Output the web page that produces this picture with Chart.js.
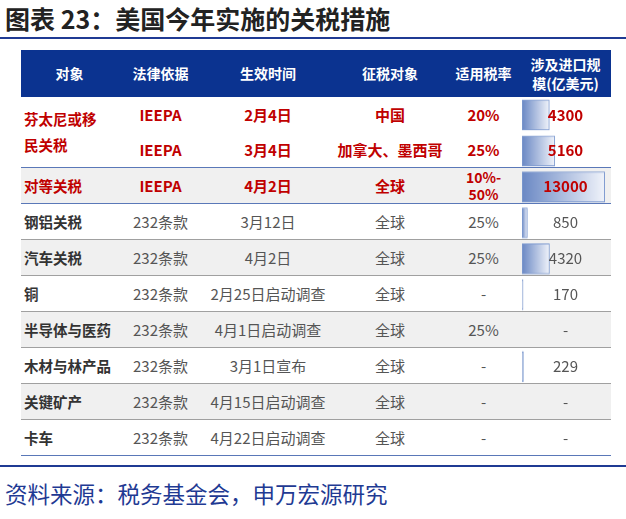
<!DOCTYPE html>
<html><head><meta charset="utf-8">
<script src="https://cdn.jsdelivr.net/npm/chart.js@4"></script>
<style>
body{margin:0;width:626px;height:519px;background:#fff;font-family:"Noto Sans CJK SC",sans-serif;position:relative;overflow:hidden}
#title{position:absolute;left:5px;top:0px;font-size:25px;font-weight:bold;color:#222;line-height:36px}
#tline{position:absolute;left:0;top:37px;width:626px;height:2px;background:#1f3a93}
#bline{position:absolute;left:0;top:465px;width:626px;height:2px;background:#1f3a93}
#src{position:absolute;left:5px;top:477px;font-size:22.5px;color:#1f3a93;line-height:32px}
table{position:absolute;left:21px;top:50px;width:590px;border-collapse:collapse;z-index:1;table-layout:fixed}
td,th{padding:0;text-align:center;font-size:15px;color:#555;height:35px;line-height:18px;white-space:nowrap}
th{background:#0b3390;color:#fff;height:47px;font-weight:bold;font-size:14px;line-height:19px}
td.n{text-align:left;padding-left:3px;font-weight:bold;color:#333;font-size:14.5px}
tr.red td{color:#c00000;font-weight:bold}
tr.g td{background:#f0f0f0}
tr td{border-bottom:1px solid #a0a0a0}
tr.b td{border-bottom:1px solid #5a78b8}
tr.nb td{border-bottom:none}
tr.last td{border-bottom:1px solid #5a78b8}
#cw{position:absolute;left:520px;width:91px;z-index:2;pointer-events:none}
#vals{position:absolute;left:520px;width:91px;z-index:3}
#vals div{text-align:center;font-size:15px;color:#555;display:flex;align-items:center;justify-content:center}
#vals div.r{color:#c00000;font-weight:bold}
</style></head><body>
<div id="title">图表 23：美国今年实施的关税措施</div>
<div id="tline"></div>
<table id="t">
<colgroup><col style="width:97px"><col style="width:85px"><col style="width:130px"><col style="width:114px"><col style="width:73px"><col style="width:91px"></colgroup>
<tr><th>对象</th><th>法律依据</th><th>生效时间</th><th>征税对象</th><th>适用税率</th><th>涉及进口规<br>模(亿美元)</th></tr>
<tr class="red nb"><td class="n" rowspan="2" style="border-bottom:1px solid #5a78b8;line-height:26px">芬太尼或移<br>民关税</td><td>IEEPA</td><td>2月4日</td><td>中国</td><td>20%</td><td></td></tr>
<tr class="red b"><td>IEEPA</td><td>3月4日</td><td>加拿大、墨西哥</td><td>25%</td><td></td></tr>
<tr class="red g b"><td class="n">对等关税</td><td>IEEPA</td><td>4月2日</td><td>全球</td><td style="line-height:17px;font-size:14px">10%-<br>50%</td><td></td></tr>
<tr><td class="n">钢铝关税</td><td>232条款</td><td>3月12日</td><td>全球</td><td>25%</td><td></td></tr>
<tr class="g"><td class="n">汽车关税</td><td>232条款</td><td>4月2日</td><td>全球</td><td>25%</td><td></td></tr>
<tr><td class="n">铜</td><td>232条款</td><td>2月25日启动调查</td><td>全球</td><td>-</td><td></td></tr>
<tr class="g"><td class="n">半导体与医药</td><td>232条款</td><td>4月1日启动调查</td><td>全球</td><td>25%</td><td></td></tr>
<tr><td class="n">木材与林产品</td><td>232条款</td><td>3月1日宣布</td><td>全球</td><td>-</td><td></td></tr>
<tr class="g"><td class="n">关键矿产</td><td>232条款</td><td>4月15日启动调查</td><td>全球</td><td>-</td><td></td></tr>
<tr class="last"><td class="n">卡车</td><td>232条款</td><td>4月22日启动调查</td><td>全球</td><td>-</td><td></td></tr>
</table>
<div id="cw"><canvas id="c"></canvas></div>
<div id="vals"></div>
<div id="bline"></div>
<div id="src">资料来源：税务基金会，申万宏源研究</div>
<script>
const categories=["芬太尼(中国)","芬太尼(加墨)","对等关税","钢铝关税","汽车关税","铜","半导体与医药","木材与林产品","关键矿产","卡车"];
const importValues=[4300,5160,13000,850,4320,170,null,229,null,null];
const valueLabels=["4300","5160","13000","850","4320","170","-","229","-","-"];
const redRows=[true,true,true,false,false,false,false,false,false,false];
const rows=[...document.getElementById('t').rows].slice(1);
const top0=rows[0].getBoundingClientRect().top, bot=rows[rows.length-1].getBoundingClientRect().bottom;
const vals=document.getElementById('vals'), cw=document.getElementById('cw');
vals.style.top=top0+'px'; cw.style.top=top0+'px'; cw.style.height=(bot-top0)+'px';
valueLabels.forEach((t,i)=>{const r=rows[i].getBoundingClientRect();const d=document.createElement('div');d.textContent=t;d.style.height=r.height+'px';if(redRows[i])d.className='r';vals.appendChild(d);});
new Chart(document.getElementById('c'),{type:'bar',
data:{labels:categories,datasets:[{data:importValues,barThickness:30,borderWidth:1,borderColor:'#7f9bd0',borderSkipped:false,
backgroundColor:(ctx)=>{const ch=ctx.chart,a=ch.chartArea;if(!a)return '#7f9bd0';const el=ctx.element;
const x0=a.left,x1=el&&el.x?el.x:a.right;const g=ch.ctx.createLinearGradient(x0,0,Math.max(x1,x0+1),0);g.addColorStop(0,'#6a88c4');g.addColorStop(1,'#f0f3fa');return g;}}]},
options:{indexAxis:'y',responsive:true,maintainAspectRatio:false,animation:false,
layout:{padding:{left:2,right:0,top:0,bottom:0}},
plugins:{legend:{display:false},tooltip:{enabled:false}},
scales:{x:{display:false,min:0,max:14000},y:{display:false}}}});
</script>
</body></html>
